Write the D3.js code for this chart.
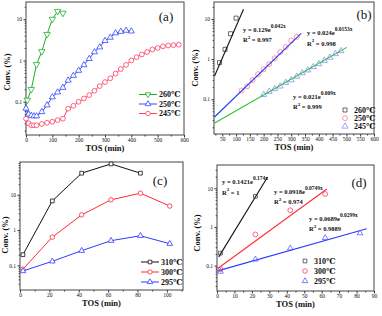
<!DOCTYPE html>
<html>
<head>
<meta charset="utf-8">
<script src="https://cdn.jsdelivr.net/npm/d3@7"></script>
<style>
body { margin: 0; background: #fff; }
svg text { font-family: "Liberation Serif", "DejaVu Serif", serif; fill: #111; }
</style>
</head>
<body>
<svg id="chart" width="382" height="316"></svg>
<script>
// ---- panel (a): conversion vs TOS
var tosA260 = [5, 20, 40, 60, 80, 100, 120, 140];
var convA260 = [0.11, 0.2, 0.8, 1.65, 4.3, 10, 15.5, 14];
var tosA250 = [0, 10, 20, 30, 40, 60, 80, 100, 120, 140, 160, 180, 200, 220, 240, 260, 280, 300, 320, 340, 360, 380, 400];
var convA250 = [0.069, 0.05, 0.046, 0.045, 0.045, 0.057, 0.083, 0.13, 0.17, 0.22, 0.33, 0.43, 0.57, 0.78, 1.1, 1.6, 2.1, 3.0, 3.6, 4.6, 5.0, 5.3, 5.1];
var tosA245 = [0, 10, 20, 30, 40, 60, 80, 100, 120, 140, 160, 180, 200, 220, 240, 260, 280, 300, 320, 340, 360, 380, 400, 420, 440, 460, 480, 500, 520, 540, 560, 580];
var convA245 = [0.039, 0.03, 0.027, 0.027, 0.027, 0.029, 0.031, 0.033, 0.036, 0.039, 0.068, 0.08, 0.1, 0.12, 0.145, 0.185, 0.24, 0.3, 0.37, 0.48, 0.62, 0.78, 1.0, 1.2, 1.4, 1.6, 1.85, 2.0, 2.2, 2.3, 2.35, 2.4];

// ---- panel (b): exponential fits
var tosB260 = [40, 60, 80, 100];
var convB260 = [0.82, 1.75, 4.3, 10.5];
var tosB250 = [120, 140, 160, 180, 200, 220, 240, 260, 280, 300, 320];
var convB250 = [0.165, 0.21, 0.3, 0.42, 0.56, 0.75, 1.05, 1.5, 2.0, 2.9, 3.6];
var tosB245 = [200, 220, 240, 260, 280, 300, 320, 340, 360, 380, 400, 420, 440, 460, 480];
var convB245 = [0.13, 0.155, 0.18, 0.21, 0.26, 0.3, 0.37, 0.45, 0.53, 0.64, 0.76, 0.92, 1.1, 1.35, 1.6];
var fitB260 = [[22, 0.38], [127, 17.5]];
var fitB250 = [[21, 0.0356], [336, 4.38]];
var fitB245 = [[21, 0.0252], [501, 1.96]];

// ---- panel (c): higher temperatures
var tosC = [2, 22, 42, 62, 82, 102];
var convC310 = [0.2, 6.7, 41, 75, 41];
var convC300 = [0.078, 0.63, 2.7, 7.2, 11.1, 4.8];
var convC295 = [0.069, 0.13, 0.26, 0.5, 0.69, 0.41];

// ---- panel (d): fits of (c)
var tosD310 = [2, 22];
var convD310 = [0.21, 6.2];
var tosD300 = [2, 22, 42, 62];
var convD300 = [0.08, 0.64, 2.7, 7.1];
var tosD295 = [2, 22, 42, 62, 82];
var convD295 = [0.07, 0.145, 0.28, 0.52, 0.69];
var fitD310 = [[1, 0.168], [29, 19.6]];
var fitD300 = [[0.4, 0.084], [63, 9.6]];
var fitD295 = [[0.4, 0.073], [85.8, 0.9]];

var svg = d3.select("#chart");

function zip(xs, ys) {
    return ys.map(function (y, i) { return [xs[i], y]; });
}

function makePanel(p) {
    var x = d3.scaleLinear().domain(p.xDomain).range([p.left, p.right]);
    var y = d3.scaleLog().domain(p.yDomain).range([p.bottom, p.top]);
    var g = svg.append("g");

    // minor ticks
    g.append("g").attr("transform", "translate(0," + p.bottom + ")")
        .call(d3.axisBottom(x).tickValues(p.xMinor).tickSize(1.5).tickFormat(""));
    g.append("g").attr("transform", "translate(0," + p.bottom + ")")
        .call(d3.axisBottom(x).tickValues(p.xTicks).tickSize(2.5).tickPadding(1).tickFormat(d3.format("d")));

    var minorY = [];
    [0.01, 0.1, 1, 10].forEach(function (dec) {
        for (var k = 2; k <= 9; k++) {
            var v = dec * k;
            if (v > p.yDomain[0] && v < p.yDomain[1]) minorY.push(v);
        }
    });
    g.append("g").attr("transform", "translate(" + p.left + ",0)")
        .call(d3.axisLeft(y).tickValues(minorY).tickSize(1.3).tickFormat(""));
    g.append("g").attr("transform", "translate(" + p.left + ",0)")
        .call(d3.axisLeft(y).tickValues([0.1, 1, 10]).tickSize(2.5).tickPadding(1.5).tickFormat(function (d) { return d; }));

    g.selectAll(".domain").remove();
    g.selectAll(".tick line").attr("stroke", "#333");
    g.selectAll(".tick text").attr("font-size", 5.5).attr("fill", "#222");

    g.append("rect")
        .attr("x", p.left).attr("y", p.top)
        .attr("width", p.right - p.left).attr("height", p.bottom - p.top)
        .attr("fill", "none").attr("stroke", "#444").attr("stroke-width", 1);

    g.append("text")
        .attr("x", (p.left + p.right) / 2).attr("y", p.bottom + 16)
        .attr("text-anchor", "middle").attr("font-size", 8.5).attr("font-weight", "bold")
        .text("TOS (min)");
    g.append("text")
        .attr("transform", "translate(" + p.ylabX + "," + p.ylabY + ") rotate(-90)")
        .attr("text-anchor", "middle").attr("font-size", 8.5).attr("font-weight", "bold")
        .text("Conv. (%)");
    g.append("text")
        .attr("x", p.tagX).attr("y", p.tagY)
        .attr("text-anchor", "middle").attr("font-size", 13)
        .text(p.tag);

    return {g: g, x: x, y: y};
}

function symbolPath(kind, size) {
    var type = kind == "square" ? d3.symbolSquare : kind == "circle" ? d3.symbolCircle : d3.symbolTriangle;
    return d3.symbol().type(type).size(size)();
}

function drawSeries(P, pts, s) {
    var line = d3.line().x(function (d) { return P.x(d[0]); }).y(function (d) { return P.y(d[1]); });
    if (s.line)
        P.g.append("path").datum(pts).attr("d", line)
            .attr("fill", "none").attr("stroke", s.color).attr("stroke-width", s.width || 1);
    if (s.marker)
        P.g.selectAll(null).data(pts).enter().append("path")
            .attr("d", symbolPath(s.marker, s.size))
            .attr("transform", function (d) {
                return "translate(" + P.x(d[0]) + "," + P.y(d[1]) + ")" + (s.down ? " rotate(180)" : "");
            })
            .attr("fill", "#fff").attr("fill-opacity", s.fillOpacity == null ? 1 : s.fillOpacity)
            .attr("stroke", s.mcolor || s.color).attr("stroke-width", 0.8);
}

function drawFit(P, seg, color) {
    P.g.append("line")
        .attr("x1", P.x(seg[0][0])).attr("y1", P.y(seg[0][1]))
        .attr("x2", P.x(seg[1][0])).attr("y2", P.y(seg[1][1]))
        .attr("stroke", color).attr("stroke-width", 1.1);
}

function legend(P, items, lx, ty, dy, withLine) {
    items.forEach(function (it, i) {
        var yy = ty + i * dy;
        if (withLine)
            P.g.append("line").attr("x1", lx - 9).attr("x2", lx + 9).attr("y1", yy).attr("y2", yy)
                .attr("stroke", it.color).attr("stroke-width", 1);
        P.g.append("path").attr("d", symbolPath(it.marker, it.size))
            .attr("transform", "translate(" + lx + "," + yy + ")" + (it.down ? " rotate(180)" : ""))
            .attr("fill", "#fff").attr("stroke", it.mcolor || it.color).attr("stroke-width", 0.8);
        P.g.append("text").attr("x", lx + (withLine ? 11 : 9)).attr("y", yy + 2.8)
            .attr("font-size", 8).attr("font-weight", "bold").text(it.label);
    });
}

function equation(P, x, y, coef, expo, r2) {
    var t = P.g.append("text").attr("x", x).attr("y", y).attr("font-size", 6.5).attr("font-weight", "bold");
    t.append("tspan").text("y = " + coef + "e");
    t.append("tspan").attr("dy", -4).attr("font-size", 5.5).text(expo);
    var r = P.g.append("text").attr("x", x).attr("y", y + 10.5).attr("font-size", 6.5).attr("font-weight", "bold");
    r.append("tspan").text("R");
    r.append("tspan").attr("dy", -3.5).attr("font-size", 5).text("2");
    r.append("tspan").attr("dy", 3.5).text(" = " + r2);
}

// ---------- (a)
var A = makePanel({
    left: 26, right: 184, top: 2, bottom: 135,
    xDomain: [0, 600], yDomain: [0.0157, 26],
    xTicks: [0, 100, 200, 300, 400, 500, 600], xMinor: d3.range(50, 600, 100),
    ylabX: 10, ylabY: 72, tag: "(a)", tagX: 166, tagY: 21
});
var green = "#1fae2a", blueA = "#3347ff", redA = "#ff3d5e";
drawSeries(A, zip(tosA245, convA245), {line: true, color: redA, marker: "circle", size: 18});
drawSeries(A, zip(tosA250, convA250), {line: true, color: blueA, marker: "triangle", size: 16});
drawSeries(A, zip(tosA260, convA260), {line: true, color: green, marker: "triangle", size: 18, down: true});
legend(A, [
    {label: "260℃", color: green, marker: "triangle", size: 14, down: true},
    {label: "250℃", color: blueA, marker: "triangle", size: 14},
    {label: "245℃", color: redA, marker: "circle", size: 16}
], 148, 94.5, 9.5, true);

// ---------- (b)
var B = makePanel({
    left: 214, right: 374, top: 2, bottom: 134,
    xDomain: [20, 600], yDomain: [0.0136, 26.5],
    xTicks: d3.range(50, 601, 50), xMinor: d3.range(25, 600, 50),
    ylabX: 198, ylabY: 68, tag: "(b)", tagX: 364, tagY: 19
});
drawSeries(B, zip(tosB250, convB250), {marker: "circle", size: 20, mcolor: "#ff7a98"});
drawSeries(B, zip(tosB245, convB245), {marker: "triangle", size: 16, mcolor: "#8a8cff"});
drawSeries(B, zip(tosB260, convB260), {marker: "square", size: 16, mcolor: "#444"});
drawFit(B, fitB260, "#111");
drawFit(B, fitB250, "#2040ee");
drawFit(B, fitB245, "#2bc22b");
equation(B, 243, 31.5, "0.129", "0.042x", "0.997");
equation(B, 307, 35, "0.024", "0.0153x", "0.998");
equation(B, 293, 98.5, "0.021", "0.009x", "0.999");
legend(B, [
    {label: "260℃", marker: "square", size: 16, color: "#444"},
    {label: "250℃", marker: "circle", size: 18, color: "#ff7a98"},
    {label: "245℃", marker: "triangle", size: 16, color: "#8a8cff"}
], 345, 110, 8.2, false);

// ---------- (c)
var C = makePanel({
    left: 20, right: 183, top: 162, bottom: 290,
    xDomain: [0, 111], yDomain: [0.02, 85],
    xTicks: [0, 20, 40, 60, 80, 100], xMinor: d3.range(10, 111, 20),
    ylabX: 8, ylabY: 235, tag: "(c)", tagX: 160, tagY: 185
});
var redC = "#ff2a36", blueC = "#2c3dff";
drawSeries(C, zip(tosC, convC310), {line: true, color: "#111", marker: "square", size: 14});
drawSeries(C, zip(tosC, convC300), {line: true, color: redC, marker: "circle", size: 16});
drawSeries(C, zip(tosC, convC295), {line: true, color: blueC, marker: "triangle", size: 14});
legend(C, [
    {label: "310℃", color: "#111", marker: "square", size: 13},
    {label: "300℃", color: redC, marker: "circle", size: 15},
    {label: "295℃", color: blueC, marker: "triangle", size: 13}
], 150, 262, 10, true);

// ---------- (d)
var D = makePanel({
    left: 217, right: 374, top: 165, bottom: 291,
    xDomain: [0, 90], yDomain: [0.022, 40],
    xTicks: d3.range(0, 91, 10), xMinor: d3.range(5, 90, 10),
    ylabX: 200, ylabY: 233, tag: "(d)", tagX: 359, tagY: 187
});
drawFit(D, fitD310, "#111");
drawFit(D, fitD300, "#ff2a3a");
drawFit(D, fitD295, "#2c3dff");
drawSeries(D, zip(tosD310, convD310), {marker: "square", size: 14, mcolor: "#444", fillOpacity: 0});
drawSeries(D, zip(tosD300, convD300), {marker: "circle", size: 18, mcolor: "#ff3a66", fillOpacity: 0});
drawSeries(D, zip(tosD295, convD295), {marker: "triangle", size: 14, mcolor: "#5562ff", fillOpacity: 0});
equation(D, 222, 184, "0.1421", "0.174x", "1");
equation(D, 274, 193.5, "0.0918", "0.0749x", "0.974");
equation(D, 309, 220.5, "0.0689", "0.0299x", "0.9889");
legend(D, [
    {label: "310℃", marker: "square", size: 14, color: "#444"},
    {label: "300℃", marker: "circle", size: 16, color: "#ff3a66"},
    {label: "295℃", marker: "triangle", size: 14, color: "#5562ff"}
], 305, 261, 10, false);
</script>
</body>
</html>
